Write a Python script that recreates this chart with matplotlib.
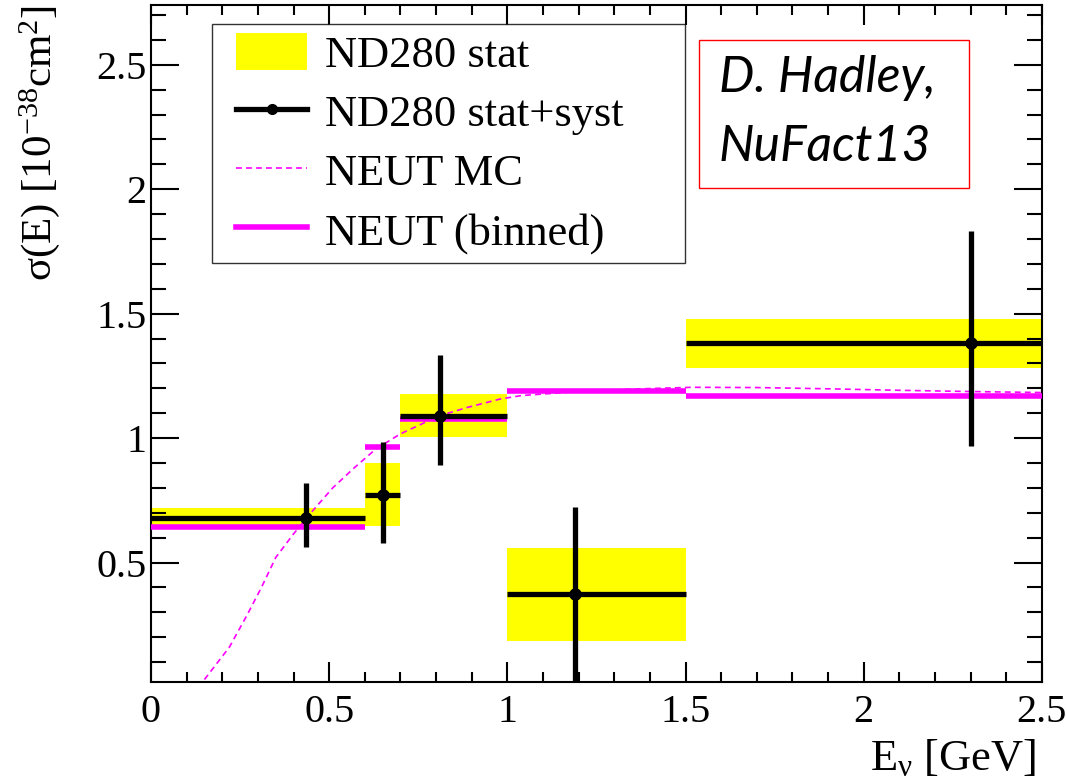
import numpy as np
import matplotlib.pyplot as plt
from matplotlib.patches import Patch, Rectangle
from matplotlib.lines import Line2D
from matplotlib.legend_handler import HandlerPatch, HandlerLine2D
from matplotlib.ticker import MultipleLocator

plt.rcParams['font.family'] = 'Liberation Serif'
plt.rcParams['mathtext.fontset'] = 'custom'
plt.rcParams['mathtext.rm'] = 'Liberation Serif'
plt.rcParams['mathtext.it'] = 'Liberation Serif:italic'

# energy bins [GeV]
bin_lo = [0.0, 0.6, 0.7, 1.0, 1.5]
bin_hi = [0.6, 0.7, 1.0, 1.5, 2.5]

# ND280 measurement
x_data = [0.435, 0.65, 0.81, 1.19, 2.30]
y_data = [0.68, 0.773, 1.09, 0.372, 1.383]
stat_lo = [0.64, 0.645, 1.004, 0.183, 1.281]
stat_hi = [0.72, 0.90, 1.178, 0.56, 1.478]
tot_lo = [0.564, 0.577, 0.893, 0.0, 0.97]
tot_hi = [0.821, 0.986, 1.335, 0.725, 1.833]

# NEUT prediction
neut_binned = [0.643, 0.966, 1.078, 1.19, 1.17]
mc_e = [0.15, 0.22, 0.27, 0.31, 0.35, 0.40, 0.455, 0.51, 0.57, 0.63, 0.70, 0.76,
        0.81, 0.89, 0.98, 1.04, 1.17, 1.35, 1.52, 1.7, 1.9, 2.1, 2.3, 2.5]
mc_sigma = [0.03, 0.16, 0.29, 0.40, 0.52, 0.615, 0.71, 0.80, 0.88, 0.955, 1.017, 1.057,
            1.09, 1.124, 1.157, 1.171, 1.184, 1.197, 1.204, 1.203, 1.198, 1.192, 1.187, 1.183]

yellow = '#ffff00'
magenta = '#ff00ff'

fig = plt.figure(figsize=(10.67, 7.83), dpi=100)
ax = fig.add_axes([0.1415, 0.129, 0.835, 0.8646])

# stat bands
lo = np.array(bin_lo)
hi = np.array(bin_hi)
ax.bar(lo, np.array(stat_hi) - np.array(stat_lo), bottom=stat_lo, width=hi - lo,
       align='edge', color=yellow, linewidth=0, zorder=1)

# NEUT MC curve
ax.plot(mc_e, mc_sigma, color=magenta, lw=1.2, dashes=(3.5, 2.5), zorder=2)

# NEUT binned
ax.hlines(neut_binned, lo, hi, colors=magenta, lw=4, zorder=3)

# data with total errors
xd = np.array(x_data)
yd = np.array(y_data)
ax.errorbar(xd, yd, xerr=[xd - lo, hi - xd],
            yerr=[yd - np.array(tot_lo), np.array(tot_hi) - yd],
            fmt='o', color='black', ms=8, elinewidth=3.8, capsize=0, zorder=4)

ax.set_xlim(0, 2.5)
ax.set_ylim(0.02, 2.74)
ax.set_xticks([0, 0.5, 1, 1.5, 2, 2.5], labels=['0', '0.5', '1', '1.5', '2', '2.5'])
ax.set_yticks([0.5, 1, 1.5, 2, 2.5], labels=['0.5', '1', '1.5', '2', '2.5'])
ax.xaxis.set_minor_locator(MultipleLocator(0.1))
ax.yaxis.set_minor_locator(MultipleLocator(0.1))
ax.tick_params(which='both', direction='in', top=True, right=True, width=1.5, labelsize=29)
ax.tick_params(axis='x', which='major', length=14.5, pad=9)
ax.tick_params(axis='x', which='minor', length=7.5)
ax.tick_params(axis='y', which='major', length=20.5, pad=3)
ax.tick_params(axis='y', which='minor', length=10.5)
for s in ax.spines.values():
    s.set_linewidth(1.5)

ax.set_ylabel(r'$\mathregular{\sigma(E)\ [10^{-38}cm^{2}]}$', fontsize=31, loc='top')
ax.yaxis.set_label_coords(-0.1, 1.0)
ax.set_xlabel(r'$\mathregular{E_{ν}}$ [GeV]', fontsize=32, loc='right')
ax.xaxis.set_label_coords(0.994, -0.082)

handles = [Patch(facecolor=yellow, edgecolor='none'),
           Line2D([], [], color='black', lw=3.8, marker='o', ms=7),
           Line2D([], [], color=magenta, lw=1.2, dashes=(3.5, 2.5)),
           Line2D([], [], color=magenta, lw=4)]
labels = ['ND280 stat', 'ND280 stat+syst', 'NEUT MC', 'NEUT (binned)']
leg = ax.legend(handles, labels, loc='upper left', bbox_to_anchor=(0.068, 0.972, 0.531, 0.0),
                mode='expand', borderaxespad=0, fontsize=32, frameon=True, fancybox=False,
                handlelength=1.95, handleheight=0.9, handletextpad=0.4, labelspacing=0.37,
                borderpad=0.2,
                handler_map={Patch: HandlerPatch(xpad=0.35), Line2D: HandlerLine2D(xpad=0.35)})
leg.get_frame().set_edgecolor('black')
leg.get_frame().set_linewidth(1.0)
leg.set_zorder(5)

# credit box
ax.add_patch(Rectangle((0.615, 0.730), 0.303, 0.218, transform=ax.transAxes,
                       facecolor='white', edgecolor='red', lw=1.0, zorder=5))
ax.text(0.637, 0.926, 'D. Hadley,\nNuFact13', transform=ax.transAxes, ha='left', va='top',
        fontsize=36, family='Lato', style='italic', linespacing=1.62, zorder=6)

fig.savefig('out.png', dpi=100)
